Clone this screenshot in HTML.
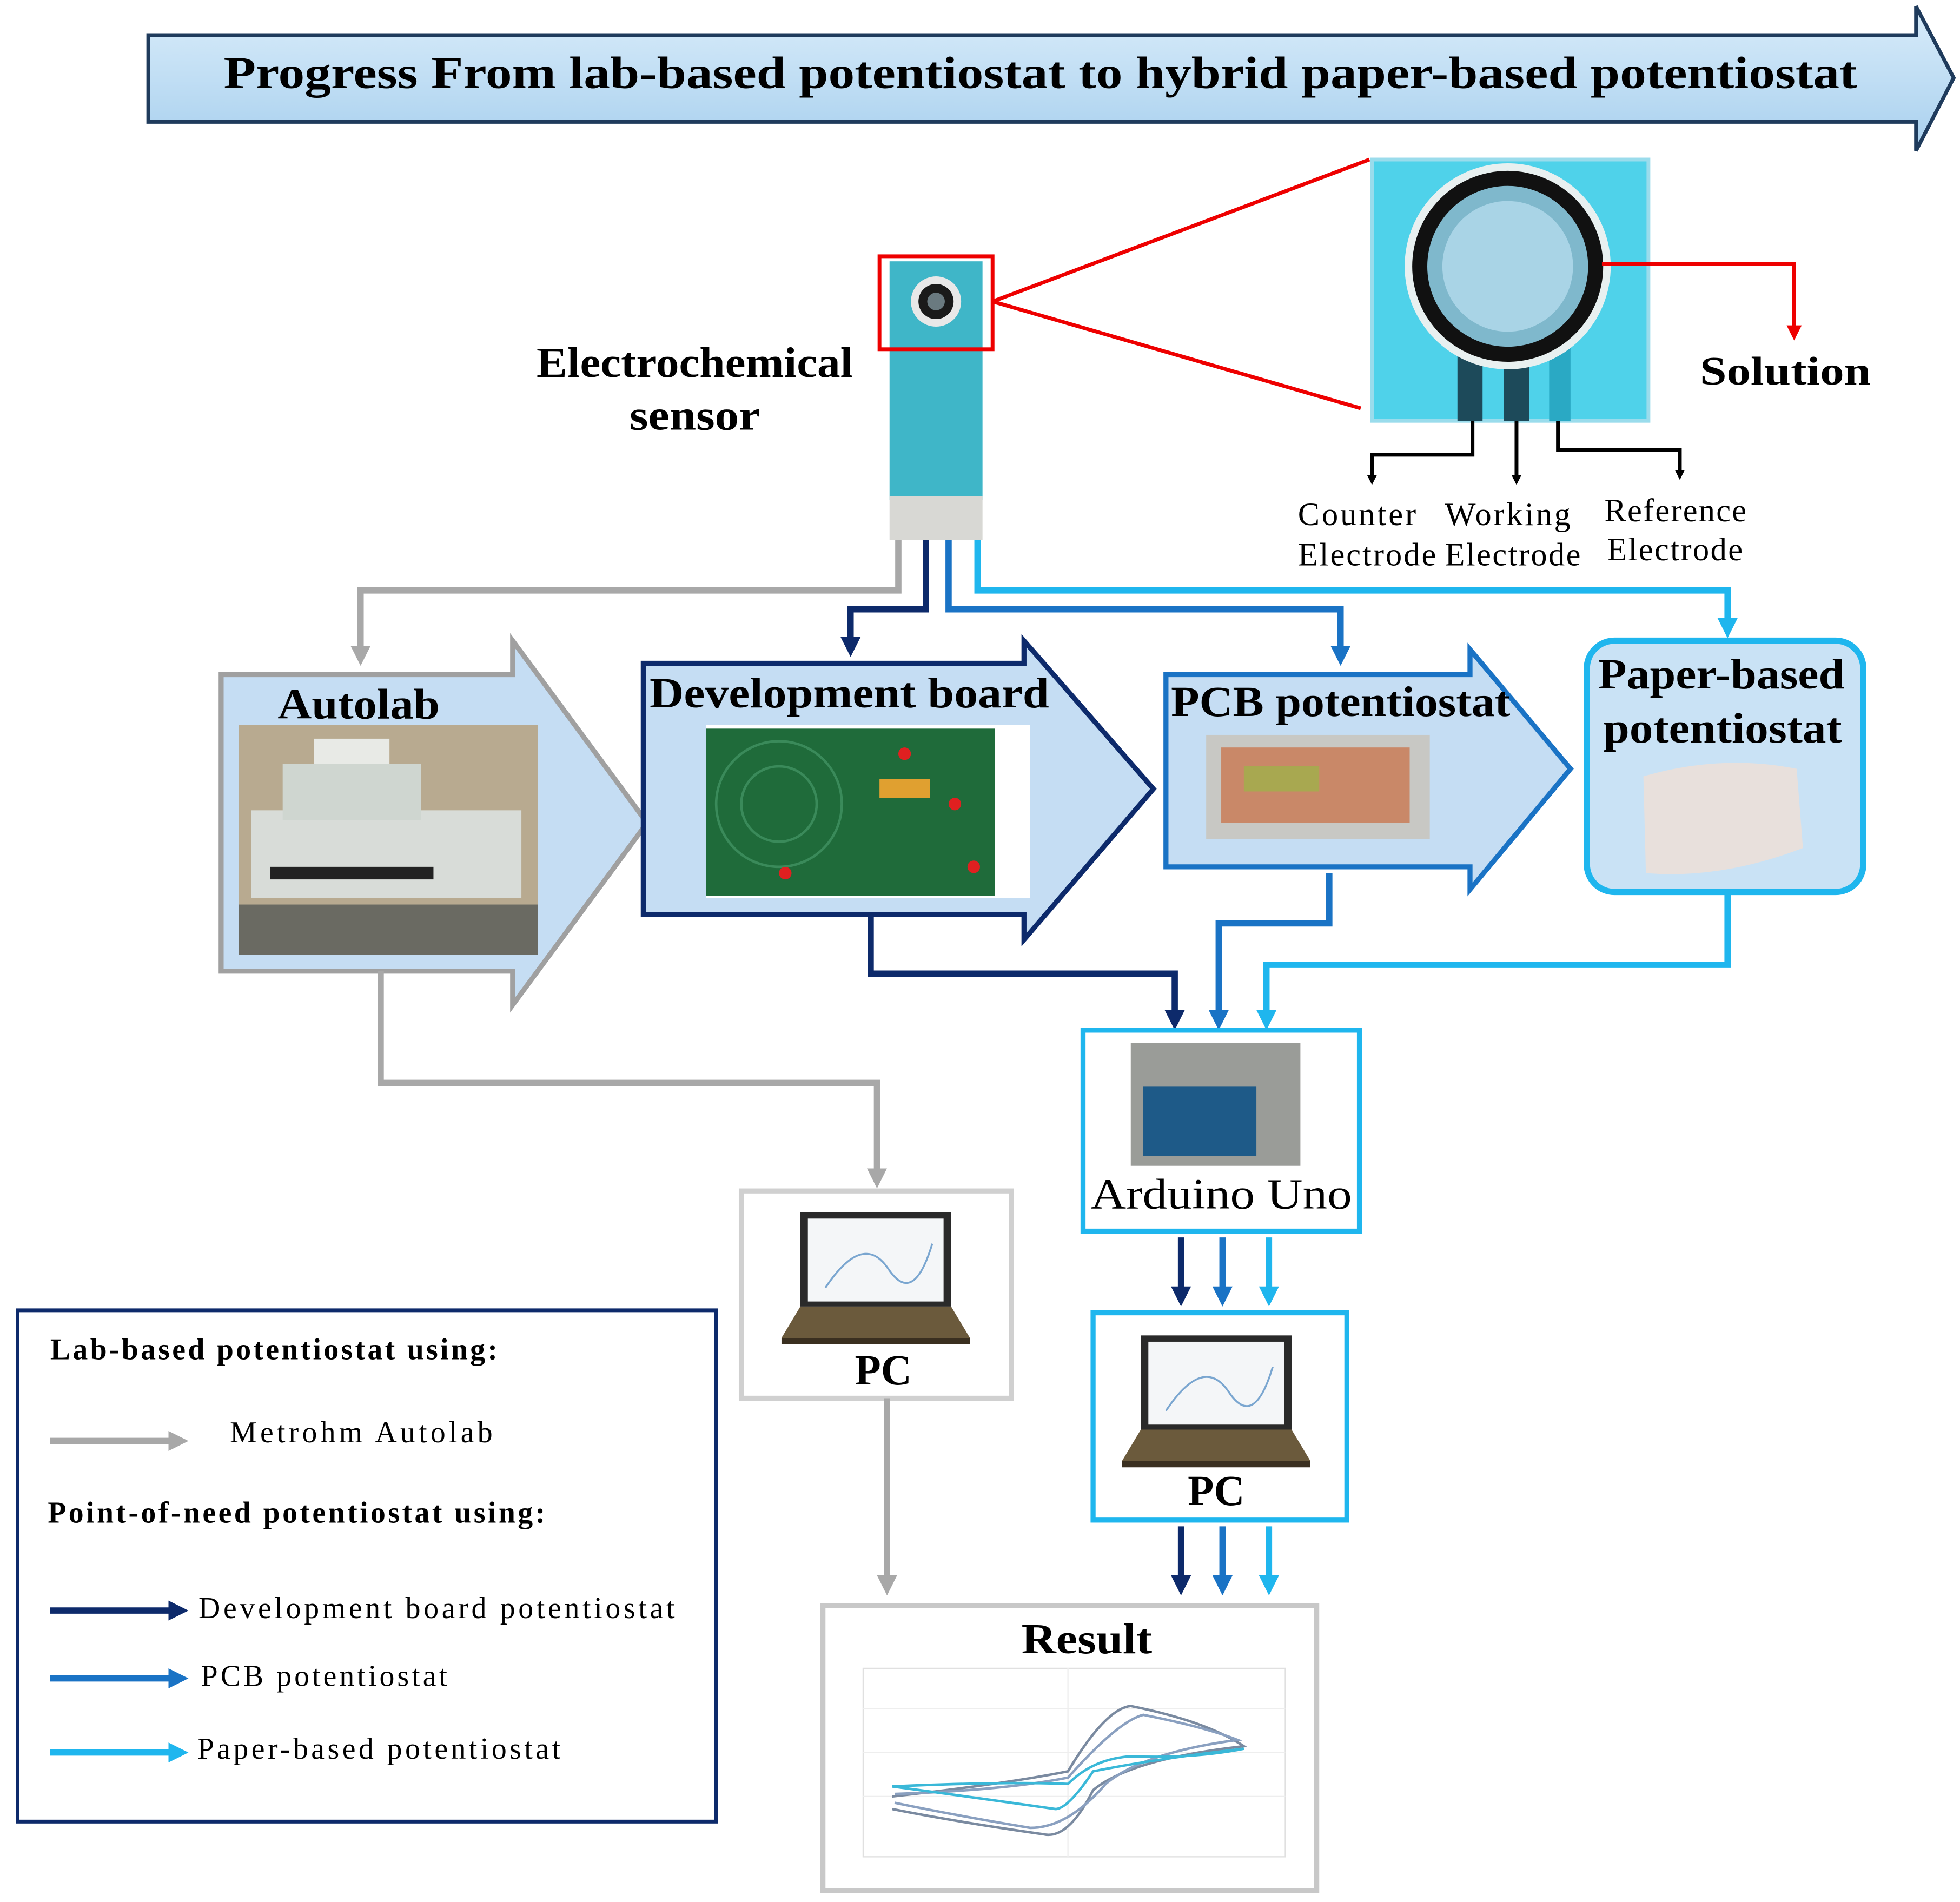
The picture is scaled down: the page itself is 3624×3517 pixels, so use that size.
<!DOCTYPE html>
<html><head><meta charset="utf-8"><style>
html,body{margin:0;padding:0;background:#fff;}
svg{display:block;}
text{font-family:"Liberation Serif",serif;fill:#000;}
</style></head><body>
<svg width="3624" height="3517" viewBox="0 0 1560 1514" preserveAspectRatio="none" xmlns="http://www.w3.org/2000/svg">
<defs>
<linearGradient id="bg" x1="0" y1="0" x2="0" y2="1"><stop offset="0" stop-color="#d9ecfa"/><stop offset="1" stop-color="#a8d0ee"/></linearGradient>
<marker id="aK" markerWidth="8" markerHeight="8" refX="4" refY="4" orient="auto" markerUnits="userSpaceOnUse"><path d="M0,0 L8,4 L0,8z" fill="#000"/></marker>
<marker id="aR" markerWidth="12" markerHeight="12" refX="6" refY="6" orient="auto" markerUnits="userSpaceOnUse"><path d="M0,0 L12,6 L0,12z" fill="#e00"/></marker>
<marker id="aG" markerWidth="16" markerHeight="16" refX="8" refY="8" orient="auto" markerUnits="userSpaceOnUse"><path d="M0,0 L16,8 L0,16z" fill="#a8a8a8"/></marker>
<marker id="aN" markerWidth="16" markerHeight="16" refX="8" refY="8" orient="auto" markerUnits="userSpaceOnUse"><path d="M0,0 L16,8 L0,16z" fill="#0d2a6b"/></marker>
<marker id="aB" markerWidth="16" markerHeight="16" refX="8" refY="8" orient="auto" markerUnits="userSpaceOnUse"><path d="M0,0 L16,8 L0,16z" fill="#1a73c5"/></marker>
<marker id="aL" markerWidth="16" markerHeight="16" refX="8" refY="8" orient="auto" markerUnits="userSpaceOnUse"><path d="M0,0 L16,8 L0,16z" fill="#1fb6ee"/></marker>
<g id="laptop">
<rect x="-60" y="-55" width="120" height="75" fill="#2a2a2a"/>
<rect x="-54" y="-50" width="108" height="66" fill="#f4f6f8"/>
<path d="M-40,5 Q-10,-40 10,-10 T45,-30" stroke="#7aa6d0" fill="none" stroke-width="1.5"/>
<path d="M-60,20 L60,20 L75,45 L-75,45z" fill="#6b5a3c"/>
<path d="M-75,45 L75,45 L75,50 L-75,50z" fill="#3a2f20"/>
</g>
</defs>

<path d="M118,28 L1525,28 L1525,5 L1555,62 L1525,120 L1525,97 L118,97z" fill="url(#bg)" stroke="#1f3b5c" stroke-width="3"/>
<text x="178" y="70" font-size="36" font-weight="bold" textLength="1300" lengthAdjust="spacingAndGlyphs">Progress From lab-based potentiostat to hybrid paper-based potentiostat</text>

<rect x="708" y="208" width="74" height="190" fill="#3fb6c8"/>
<rect x="708" y="395" width="74" height="35" fill="#d8d8d4"/>
<circle cx="745" cy="240" r="20" fill="#e8e8e8"/><circle cx="745" cy="240" r="14" fill="#1a1a1a"/><circle cx="745" cy="240" r="7" fill="#6a7a80"/>
<rect x="700" y="204" width="90" height="74" fill="none" stroke="#e00" stroke-width="3"/>
<line x1="790" y1="240" x2="1090" y2="127" stroke="#e00" stroke-width="3"/>
<line x1="790" y1="240" x2="1083" y2="325" stroke="#e00" stroke-width="3"/>
<text x="427" y="300" font-size="34" font-weight="bold" textLength="252" lengthAdjust="spacingAndGlyphs">Electrochemical</text>
<text x="501" y="342" font-size="34" font-weight="bold" textLength="104" lengthAdjust="spacingAndGlyphs">sensor</text>

<rect x="1092" y="127" width="220" height="208" fill="#4fd2ea" stroke="#9adcec" stroke-width="3"/>
<rect x="1160" y="250" width="20" height="85" fill="#1d4a5a"/>
<rect x="1197" y="250" width="20" height="85" fill="#1d4a5a"/>
<rect x="1233" y="250" width="17" height="85" fill="#2aa9c4"/>
<circle cx="1200" cy="212" r="82" fill="#e8f0f0"/>
<circle cx="1200" cy="212" r="76" fill="#111"/>
<circle cx="1200" cy="212" r="64" fill="#7fb8cc"/>
<circle cx="1200" cy="212" r="52" fill="#a9d4e6"/>
<polyline points="1275,210 1428,210 1428,265" fill="none" stroke="#e00" stroke-width="3" marker-end="url(#aR)"/>
<text x="1353" y="306" font-size="32" font-weight="bold" textLength="136" lengthAdjust="spacingAndGlyphs">Solution</text>
<polyline points="1172,335 1172,362 1092,362 1092,382" fill="none" stroke="#000" stroke-width="3" marker-end="url(#aK)"/>
<polyline points="1207,335 1207,382" fill="none" stroke="#000" stroke-width="3" marker-end="url(#aK)"/>
<polyline points="1240,335 1240,358 1337,358 1337,378" fill="none" stroke="#000" stroke-width="3" marker-end="url(#aK)"/>
<g font-size="26" lengthAdjust="spacingAndGlyphs">
<text x="1033" y="418" textLength="94">Counter</text><text x="1033" y="450" textLength="110">Electrode</text>
<text x="1150" y="418" textLength="100">Working</text><text x="1150" y="450" textLength="108">Electrode</text>
<text x="1277" y="415" textLength="113">Reference</text><text x="1279" y="446" textLength="108">Electrode</text>
</g>

<polyline points="715,430 715,470 287,470 287,522" fill="none" stroke="#a8a8a8" stroke-width="5" marker-end="url(#aG)"/>
<polyline points="737,430 737,485 677,485 677,515" fill="none" stroke="#0d2a6b" stroke-width="5" marker-end="url(#aN)"/>
<polyline points="755,430 755,485 1067,485 1067,522" fill="none" stroke="#1a73c5" stroke-width="5" marker-end="url(#aB)"/>
<polyline points="778,430 778,470 1375,470 1375,500" fill="none" stroke="#1fb6ee" stroke-width="5" marker-end="url(#aL)"/>

<path d="M176,537 L408,537 L408,510 L515,655 L408,800 L408,773 L176,773z" fill="#c5ddf3" stroke="#a0a0a0" stroke-width="4"/>
<rect x="190" y="577" width="238" height="183" fill="#b8aa90"/>
<rect x="200" y="645" width="215" height="70" fill="#d8dcd8"/>
<rect x="225" y="608" width="110" height="45" fill="#cfd6d0"/>
<rect x="250" y="588" width="60" height="20" fill="#e8eae6"/>
<rect x="215" y="690" width="130" height="10" fill="#222"/>
<rect x="190" y="720" width="238" height="40" fill="#6a6a62"/>
<text x="221" y="572" font-size="34" font-weight="bold" textLength="129" lengthAdjust="spacingAndGlyphs">Autolab</text>

<path d="M512,528 L815,528 L815,510 L918,628 L815,748 L815,728 L512,728z" fill="#c5ddf3" stroke="#0d2a6b" stroke-width="4"/>
<rect x="562" y="577" width="258" height="138" fill="#fff"/>
<rect x="562" y="580" width="230" height="133" fill="#1f6b3a"/>
<circle cx="620" cy="640" r="50" fill="none" stroke="#3a8a5a" stroke-width="2"/>
<circle cx="620" cy="640" r="30" fill="none" stroke="#3a8a5a" stroke-width="2"/>
<rect x="700" y="620" width="40" height="15" fill="#e0a030"/>
<g fill="#e02020"><circle cx="720" cy="600" r="5"/><circle cx="760" cy="640" r="5"/><circle cx="775" cy="690" r="5"/><circle cx="625" cy="695" r="5"/></g>
<text x="517" y="563" font-size="34" font-weight="bold" textLength="318" lengthAdjust="spacingAndGlyphs">Development board</text>

<path d="M928,537 L1170,537 L1170,517 L1250,612 L1170,708 L1170,690 L928,690z" fill="#c5ddf3" stroke="#1a73c5" stroke-width="4"/>
<rect x="960" y="585" width="178" height="83" fill="#c8c8c4"/>
<rect x="972" y="595" width="150" height="60" fill="#c98868"/>
<rect x="990" y="610" width="60" height="20" fill="#a8a850"/>
<text x="932" y="570" font-size="34" font-weight="bold" textLength="270" lengthAdjust="spacingAndGlyphs">PCB potentiostat</text>

<rect x="1263" y="510" width="220" height="200" rx="22" fill="#c9e2f5" stroke="#1fb6ee" stroke-width="5"/>
<path d="M1308,618 Q1370,600 1430,612 L1435,675 Q1370,700 1310,695z" fill="#e8e0dc"/>
<text x="1272" y="548" font-size="34" font-weight="bold" textLength="196" lengthAdjust="spacingAndGlyphs">Paper-based</text>
<text x="1276" y="591" font-size="34" font-weight="bold" textLength="190" lengthAdjust="spacingAndGlyphs">potentiostat</text>

<polyline points="693,728 693,775 935,775 935,812" fill="none" stroke="#0d2a6b" stroke-width="5" marker-end="url(#aN)"/>
<polyline points="1058,695 1058,735 970,735 970,812" fill="none" stroke="#1a73c5" stroke-width="5" marker-end="url(#aB)"/>
<polyline points="1375,710 1375,768 1008,768 1008,812" fill="none" stroke="#1fb6ee" stroke-width="5" marker-end="url(#aL)"/>
<polyline points="303,773 303,862 698,862 698,938" fill="none" stroke="#a8a8a8" stroke-width="5" marker-end="url(#aG)"/>

<rect x="862" y="820" width="220" height="160" fill="#fff" stroke="#1fb6ee" stroke-width="4"/>
<rect x="900" y="830" width="135" height="98" fill="#9a9c98"/>
<rect x="910" y="865" width="90" height="55" fill="#1e5a88"/>
<text x="868" y="962" font-size="34" textLength="208" lengthAdjust="spacingAndGlyphs">Arduino Uno</text>
<g stroke-width="5" fill="none">
<line x1="940" y1="985" x2="940" y2="1032" stroke="#0d2a6b" marker-end="url(#aN)"/>
<line x1="973" y1="985" x2="973" y2="1032" stroke="#1a73c5" marker-end="url(#aB)"/>
<line x1="1010" y1="985" x2="1010" y2="1032" stroke="#1fb6ee" marker-end="url(#aL)"/>
</g>

<rect x="870" y="1045" width="202" height="165" fill="#fff" stroke="#1fb6ee" stroke-width="4"/>
<use href="#laptop" x="968" y="1118"/>
<text x="968" y="1198" font-size="34" font-weight="bold" text-anchor="middle">PC</text>
<g stroke-width="5" fill="none">
<line x1="940" y1="1215" x2="940" y2="1262" stroke="#0d2a6b" marker-end="url(#aN)"/>
<line x1="973" y1="1215" x2="973" y2="1262" stroke="#1a73c5" marker-end="url(#aB)"/>
<line x1="1010" y1="1215" x2="1010" y2="1262" stroke="#1fb6ee" marker-end="url(#aL)"/>
</g>

<rect x="590" y="948" width="215" height="165" fill="#fff" stroke="#d0d0d0" stroke-width="4"/>
<use href="#laptop" x="697" y="1020"/>
<text x="703" y="1102" font-size="34" font-weight="bold" text-anchor="middle">PC</text>
<line x1="706" y1="1113" x2="706" y2="1262" stroke="#a8a8a8" stroke-width="5" marker-end="url(#aG)"/>

<rect x="655" y="1278" width="393" height="227" fill="#fff" stroke="#c8c8c8" stroke-width="4"/>
<text x="813" y="1316" font-size="34" font-weight="bold" textLength="104" lengthAdjust="spacingAndGlyphs">Result</text>
<rect x="687" y="1328" width="336" height="150" fill="#fff" stroke="#e0e0e0"/>
<g stroke="#eee"><line x1="687" y1="1360" x2="1023" y2="1360"/><line x1="687" y1="1395" x2="1023" y2="1395"/><line x1="687" y1="1430" x2="1023" y2="1430"/><line x1="850" y1="1328" x2="850" y2="1478"/></g>
<g fill="none" stroke-width="2">
<path d="M710,1430 Q800,1420 850,1410 Q880,1360 900,1358 Q960,1370 990,1390 Q900,1400 870,1425 Q850,1465 830,1460 Q760,1450 710,1440" stroke="#7a8aa0"/>
<path d="M712,1428 Q800,1425 850,1415 Q890,1370 910,1365 Q960,1375 985,1385 Q910,1395 880,1420 Q850,1455 820,1455 Q760,1445 712,1435" stroke="#8aa0c0"/>
<path d="M710,1422 Q800,1418 850,1420 Q870,1400 900,1398 Q950,1400 990,1392 Q920,1400 870,1410 Q850,1440 840,1440 Q770,1430 710,1422" stroke="#3ab8d8"/>
</g>

<rect x="14" y="1043" width="556" height="407" fill="#fff" stroke="#0d2a6b" stroke-width="3"/>
<g lengthAdjust="spacingAndGlyphs">
<text x="40" y="1082" font-size="24" font-weight="bold" textLength="356">Lab-based potentiostat using:</text>
<text x="183" y="1148" font-size="24" textLength="209">Metrohm Autolab</text>
<text x="38" y="1212" font-size="24" font-weight="bold" textLength="396">Point-of-need potentiostat using:</text>
<text x="158" y="1288" font-size="24" textLength="379">Development board potentiostat</text>
<text x="160" y="1342" font-size="24" textLength="196">PCB potentiostat</text>
<text x="157" y="1400" font-size="24" textLength="289">Paper-based potentiostat</text>
</g>
<line x1="40" y1="1147" x2="142" y2="1147" stroke="#a8a8a8" stroke-width="5" marker-end="url(#aG)"/>
<line x1="40" y1="1282" x2="142" y2="1282" stroke="#0d2a6b" stroke-width="5" marker-end="url(#aN)"/>
<line x1="40" y1="1336" x2="142" y2="1336" stroke="#1a73c5" stroke-width="5" marker-end="url(#aB)"/>
<line x1="40" y1="1395" x2="142" y2="1395" stroke="#1fb6ee" stroke-width="5" marker-end="url(#aL)"/>
</svg>
</body></html>
